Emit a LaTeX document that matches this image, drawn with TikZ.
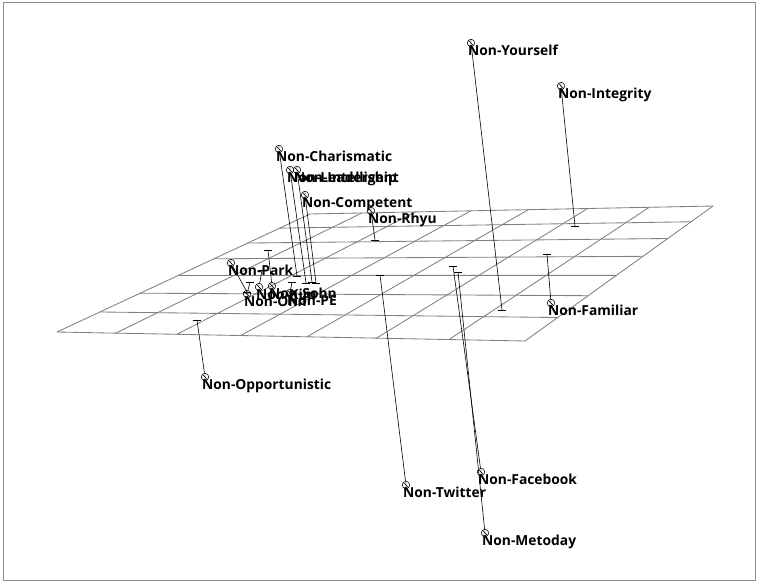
\documentclass[tikz,border=0pt]{standalone}
\usepackage{fontspec}
\setmainfont{Open Sans}
\tikzset{
  frameline/.style={draw=black!45, line width=0.8pt},
  gridline/.style={draw=black!50, line width=0.85pt},
  stem/.style={draw=black, line width=0.6pt},
  footbar/.style={draw=black, line width=0.6pt},
  ptmark/.style={circle, draw=black, line width=0.55pt, minimum size=7.5pt, inner sep=0pt,
    path picture={\draw[line width=0.45pt] (path picture bounding box.north west) -- (path picture bounding box.south east)
                  (path picture bounding box.north) -- (path picture bounding box.south);}},
  lbl/.style={anchor=base west, inner sep=0pt, xshift=-3pt, yshift=-12pt,
    font=\bfseries\fontsize{13.8}{15}\selectfont, text=black}
}
\begin{document}
\begin{tikzpicture}[x=1pt, y=-1pt]
\useasboundingbox (0,0) rectangle (757,582);
\draw[frameline] (3,2) rectangle (755,580);

% ground plane: 7 x 7 grid seen in perspective
\foreach \i in {0,...,7}{
  \pgfmathsetmacro\u{\i/7}
  \pgfmathsetmacro\xa{(394.85*\u+57)/(1-0.13934*\u)}
  \pgfmathsetmacro\ya{(-38.51*\u+332)/(1-0.13934*\u)}
  \pgfmathsetmacro\xb{(394.85*\u+380.15)/(1.22629-0.13934*\u)}
  \pgfmathsetmacro\yb{(-38.51*\u+262.43)/(1.22629-0.13934*\u)}
  \draw[gridline] (\xa,\ya) -- (\xb,\yb);
  \pgfmathsetmacro\v{\i/7}
  \pgfmathsetmacro\xc{(323.15*\v+57)/(1+0.22629*\v)}
  \pgfmathsetmacro\yc{(-69.57*\v+332)/(1+0.22629*\v)}
  \pgfmathsetmacro\xd{(323.15*\v+451.85)/(0.86066+0.22629*\v)}
  \pgfmathsetmacro\yd{(-69.57*\v+293.49)/(0.86066+0.22629*\v)}
  \draw[gridline] (\xc,\yc) -- (\xd,\yd);
}

% points: marker, drop line to the plane, foot bar and label
\foreach \nm/\mx/\my/\fx/\fy/\txt in {
  yourself/471/43/502/310/Non-Yourself,
  integrity/561/86/575/226/Non-Integrity,
  charismatic/279/149/297/276/Non-Charismatic,
  leadership/290/170/306/283/Non-Leadership,
  intelligent/297/170/312/282/Non-Intelligent,
  competent/305/195/316/283/Non-Competent,
  rhyu/371/211/375/240/Non-Rhyu,
  park/231/263/247/292/Non-Park,
  familiar/551/303/547/254/Non-Familiar,
  opportunistic/205/377/197/320/Non-Opportunistic,
  twitter/406/485/380/275/Non-Twitter,
  facebook/481/472/453/266/Non-Facebook,
  metoday/485/533/458/272/Non-Metoday,
  sohn/272/286/268/250/Non-Sohn,
  kim/259/287/262/270/Non-Kim,
  ohn/247/294/250/282/Non-Ohn,
  pe/290/293/292/282/Non-PE}{
  \coordinate (f-\nm) at (\fx,\fy);
  \node[ptmark] (m-\nm) at (\mx,\my) {};
  \draw[stem] (m-\nm) -- (f-\nm);
  \draw[footbar] ([xshift=-4pt]f-\nm) -- ([xshift=4pt]f-\nm);
  \node[lbl] (l-\nm) at (m-\nm) {\txt};
}
\end{tikzpicture}
\end{document}
